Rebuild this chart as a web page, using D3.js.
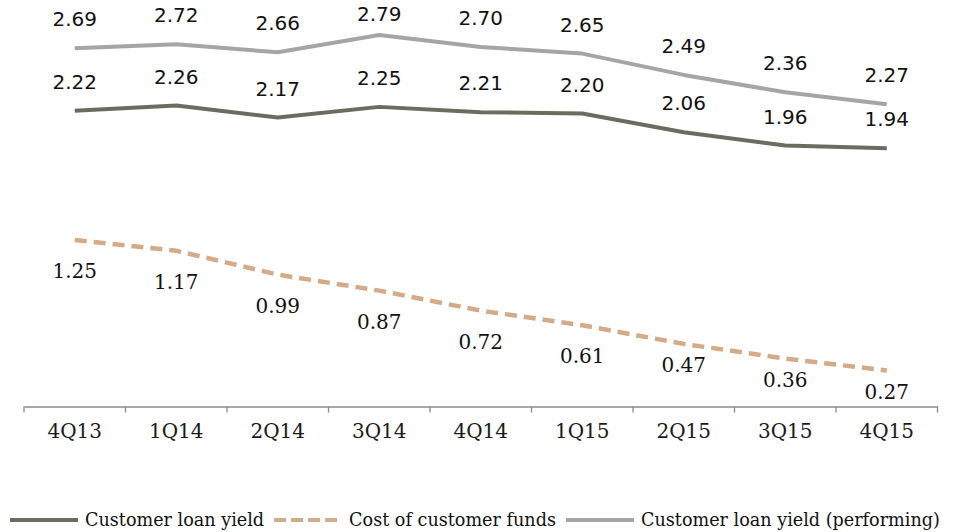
<!DOCTYPE html>
<html>
<head>
<meta charset="utf-8">
<script src="https://cdn.jsdelivr.net/npm/d3@7"></script>
<style>
  body { margin: 0; background: #fff; }
  svg { display: block; }
</style>
</head>
<body>
<div id="chart"></div>
<script>
const quarters = ["4Q13", "1Q14", "2Q14", "3Q14", "4Q14", "1Q15", "2Q15", "3Q15", "4Q15"];
const loanYield = [2.22, 2.26, 2.17, 2.25, 2.21, 2.20, 2.06, 1.96, 1.94];
const costOfFunds = [1.25, 1.17, 0.99, 0.87, 0.72, 0.61, 0.47, 0.36, 0.27];
const loanYieldPerforming = [2.69, 2.72, 2.66, 2.79, 2.70, 2.65, 2.49, 2.36, 2.27];
const seriesNames = ["Customer loan yield", "Cost of customer funds", "Customer loan yield (performing)"];

const chart = {
  width: 959,
  height: 532,
  left: 24,
  right: 937.5,
  zero: 406.5,
  top: 7,
};

const colors = ["#6a6c60", "#d4aa87", "#a5a5a5"];
const serif = "'DejaVu Serif', serif";
const sans = "'DejaVu Sans', sans-serif";

const svg = d3
  .select("#chart")
  .append("svg")
  .attr("width", chart.width)
  .attr("height", chart.height);

const x = d3
  .scaleBand()
  .domain(quarters)
  .range([chart.left, chart.right])
  .padding(0);

const y = d3
  .scaleLinear()
  .domain([0, 3])
  .range([chart.zero, chart.top]);

const cx = (i) => x(quarters[i]) + x.bandwidth() / 2;

/* x axis: line, ticks between categories, labels */
const xAxis = (g) =>
  g
    .attr("transform", `translate(0, ${chart.zero})`)
    .call(d3.axisBottom(x).tickSize(0).tickPadding(17))
    .call((g) => g.select(".domain").attr("stroke", "#8a8a8a").attr("stroke-width", 1.6))
    .call((g) =>
      g
        .selectAll("text")
        .attr("font-family", serif)
        .attr("font-size", 20)
        .attr("fill", "#1a1a1a")
    );

svg.append("g").call(xAxis);

const boundaries = quarters.map((q) => x(q)).concat([chart.right]);
svg
  .append("g")
  .selectAll("line")
  .data(boundaries)
  .join("line")
  .attr("x1", (d) => d)
  .attr("x2", (d) => d)
  .attr("y1", chart.zero)
  .attr("y2", chart.zero + 6)
  .attr("stroke", "#8a8a8a")
  .attr("stroke-width", 1.3);

/* lines */
const line = d3
  .line()
  .x((d, i) => cx(i))
  .y((d) => y(d));

function plotLine(values, color, dash) {
  svg
    .append("path")
    .datum(values)
    .attr("fill", "none")
    .attr("stroke", color)
    .attr("stroke-width", dash ? 4.5 : 4)
    .attr("stroke-dasharray", dash || null)
    .attr("stroke-linejoin", "round")
    .attr("d", line);
}

plotLine(loanYieldPerforming, colors[2]);
plotLine(loanYield, colors[0]);
plotLine(costOfFunds, colors[1], "12,7");

/* data labels */
function plotLabels(values, posFn, font) {
  svg
    .append("g")
    .selectAll("text")
    .data(values)
    .join("text")
    .attr("x", (d, i) => cx(i))
    .attr("y", (d) => posFn(y(d)))
    .attr("dy", "0.36em")
    .attr("text-anchor", "middle")
    .attr("font-family", font)
    .attr("font-size", 20)
    .attr("fill", "#111")
    .text((d) => d.toFixed(2));
}

// labels above the line, kept inside the top edge
plotLabels(loanYieldPerforming, (py) => Math.max(py - 29, 14), sans);
plotLabels(loanYield, (py) => py - 29, sans);
// labels below the line, pulled up near the axis
plotLabels(costOfFunds, (py) => (py + 31 > 370 ? py + 21 : py + 31), serif);

/* legend */
const legend = svg.append("g").attr("transform", "translate(0, 520)");
const dashes = [null, "12,5", null];
let lx = 10;
seriesNames.forEach((name, i) => {
  legend
    .append("line")
    .attr("x1", lx)
    .attr("x2", lx + 68)
    .attr("y1", 0)
    .attr("y2", 0)
    .attr("stroke", colors[i])
    .attr("stroke-width", 4)
    .attr("stroke-dasharray", dashes[i]);
  const t = legend
    .append("text")
    .attr("x", lx + 75)
    .attr("y", 0)
    .attr("dy", "0.36em")
    .attr("font-family", serif)
    .attr("font-size", 17.6)
    .attr("fill", "#111")
    .text(name);
  lx += 75 + t.node().getComputedTextLength() + 10;
});
</script>
</body>
</html>
